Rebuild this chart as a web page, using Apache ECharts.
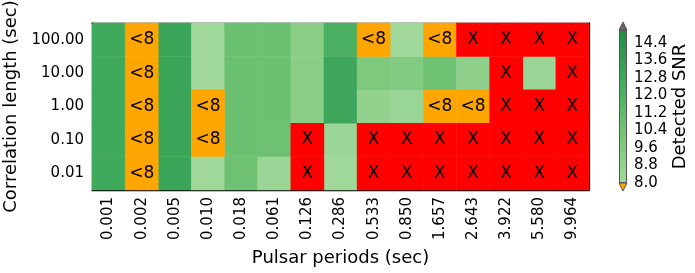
<!DOCTYPE html>
<html>
<head>
<meta charset="utf-8">
<script src="https://cdn.jsdelivr.net/npm/echarts@6/dist/echarts.min.js"></script>
<style>html,body{margin:0;padding:0;background:#fff;}#c{width:695px;height:273px;}</style>
</head>
<body>
<div id="c"></div>
<script>
const periods = ['0.001','0.002','0.005','0.010','0.018','0.061','0.126','0.286','0.533','0.850','1.657','2.643','3.922','5.580','9.964'];
const corrLengths = ['0.01','0.10','1.00','10.00','100.00'];
// SNR per correlation length row; '<8' = below threshold, 'X' = not detected
const snr_0_01   = [12.8,'<8',13.2,8.1,10.6,8.3,'X',8.1,'X','X','X','X','X','X','X'];
const snr_0_10   = [12.8,'<8',13.2,'<8',10.7,10.6,'X',8.3,'X','X','X','X','X','X','X'];
const snr_1_00   = [12.8,'<8',13.2,'<8',10.7,10.7,9.2,13.0,8.8,8.4,'<8','<8','X','X','X'];
const snr_10_00  = [12.8,'<8',13.2,8.1,10.7,10.7,9.2,13.0,9.8,9.6,10.6,9.0,'X',8.3,'X'];
const snr_100_00 = [12.8,'<8',13.2,8.1,10.7,10.7,9.2,12.2,'<8',8.1,'<8','X','X','X','X'];
const snrRows = [snr_0_01, snr_0_10, snr_1_00, snr_10_00, snr_100_00];
const cbMin = 8.0, cbMax = 15.0, cbStep = 0.8;
const cbTickLabels = ['8.0','8.8','9.6','10.4','11.2','12.0','12.8','13.6','14.4'];

const greens = ['#a1d99b','#74c476','#41ab5d','#238b45'];
const numData = [], lowData = [], xData = [];
snrRows.forEach((row, yi) => row.forEach((v, xi) => {
  if (v === '<8') lowData.push([xi, yi, 1]);
  else if (v === 'X') xData.push([xi, yi, 1]);
  else numData.push([xi, yi, v]);
}));

const FONT = 'DejaVu Sans';
const chart = echarts.init(document.getElementById('c'), null, {renderer: 'canvas'});
const cellLabel = (txt) => ({show: true, formatter: txt, color: '#000', fontSize: 17, fontFamily: FONT});
chart.setOption({
  animation: false,
  textStyle: {fontFamily: FONT},
  grid: [
    {left: 92, top: 23, width: 497, height: 167, containLabel: false, outerBoundsMode: 'none'},
    {left: 619, top: 30, width: 8, height: 153, containLabel: false, outerBoundsMode: 'none'}
  ],
  xAxis: [
    {type: 'category', gridIndex: 0, data: periods, position: 'bottom',
     axisLine: {lineStyle: {color: '#000', width: 1.3}},
     axisTick: {inside: true, alignWithLabel: true, length: 5, lineStyle: {color: '#000'}},
     axisLabel: {rotate: 90, fontSize: 15, color: '#000', margin: 7, fontFamily: FONT},
     name: 'Pulsar periods (sec)', nameLocation: 'middle', nameGap: 59,
     nameTextStyle: {fontSize: 18, color: '#000', fontFamily: FONT}},
    {type: 'category', gridIndex: 1, data: ['cb'], show: false},
    {type: 'category', gridIndex: 0, data: periods, position: 'top',
     axisLine: {lineStyle: {color: '#000', width: 1.3}},
     axisTick: {inside: true, alignWithLabel: true, length: 5, lineStyle: {color: '#000'}},
     axisLabel: {show: false}}
  ],
  yAxis: [
    {type: 'category', gridIndex: 0, data: corrLengths, position: 'left',
     axisLine: {lineStyle: {color: '#000', width: 1.3}},
     axisTick: {inside: true, alignWithLabel: true, length: 5, lineStyle: {color: '#000'}},
     axisLabel: {fontSize: 15, color: '#000', margin: 8, fontFamily: FONT},
     name: 'Correlation length (sec)', nameLocation: 'middle', nameGap: 68, nameRotate: 90,
     nameTextStyle: {fontSize: 18, color: '#000', fontFamily: FONT}},
    {type: 'value', gridIndex: 1, position: 'right', min: cbMin, max: cbMax, interval: cbStep,
     axisLine: {show: false}, splitLine: {show: false},
     axisTick: {inside: true, length: 4, lineStyle: {color: '#333'}},
     axisLabel: {fontSize: 15, color: '#000', margin: 7, fontFamily: FONT, showMaxLabel: false,
       formatter: (v) => { const i = Math.round((v - cbMin) / cbStep); return (Math.abs(v - (cbMin + i*cbStep)) < 1e-6 && cbTickLabels[i]) ? cbTickLabels[i] : ''; }},
     name: 'Detected SNR', nameLocation: 'middle', nameGap: 44, nameRotate: 90,
     nameTextStyle: {fontSize: 18, color: '#000', fontFamily: FONT}},
    {type: 'category', gridIndex: 0, data: corrLengths, position: 'right',
     axisLine: {lineStyle: {color: '#000', width: 1.3}},
     axisTick: {inside: true, alignWithLabel: true, length: 5, lineStyle: {color: '#000'}},
     axisLabel: {show: false}}
  ],
  visualMap: {type: 'continuous', show: false, min: cbMin, max: cbMax, seriesIndex: 0, dimension: 2,
    inRange: {color: greens}},
  series: [
    {type: 'heatmap', xAxisIndex: 0, yAxisIndex: 0, data: numData, itemStyle: {borderWidth: 0}},
    {type: 'heatmap', xAxisIndex: 0, yAxisIndex: 0, data: lowData, itemStyle: {color: '#ffa500', borderWidth: 0}, label: cellLabel('<8')},
    {type: 'heatmap', xAxisIndex: 0, yAxisIndex: 0, data: xData, itemStyle: {color: '#ff0000', borderWidth: 0}, label: cellLabel('X')},
    {type: 'bar', xAxisIndex: 1, yAxisIndex: 1, stack: 'cb', data: [cbMin], barWidth: '100%', itemStyle: {color: 'rgba(0,0,0,0)'}, silent: true},
    {type: 'bar', xAxisIndex: 1, yAxisIndex: 1, stack: 'cb', data: [cbMax - cbMin], barWidth: '100%', silent: true,
     itemStyle: {borderColor: '#555', borderWidth: 1,
       color: new echarts.graphic.LinearGradient(0, 1, 0, 0, greens.map((c, i) => ({offset: i/(greens.length-1), color: c})))}}
  ],
  graphic: [
    {type: 'polygon', shape: {points: [[619, 30], [627, 30], [623, 22]]}, style: {fill: '#666', stroke: '#555', lineWidth: 1}},
    {type: 'polygon', shape: {points: [[619, 183], [627, 183], [623, 191]]}, style: {fill: '#ffa500', stroke: '#555', lineWidth: 1}}
  ]
});
</script>
</body>
</html>
